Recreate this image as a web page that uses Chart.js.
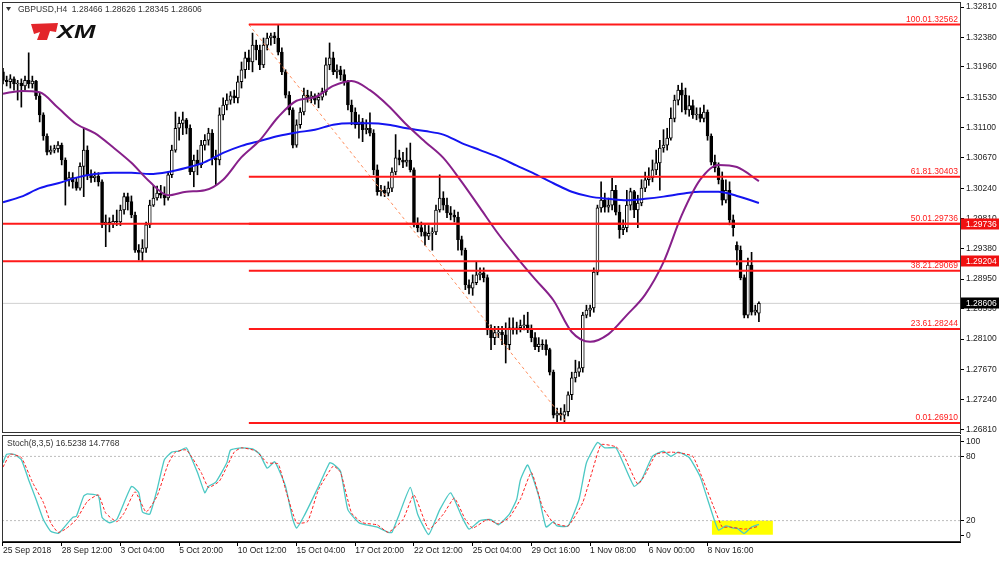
<!DOCTYPE html>
<html>
<head>
<meta charset="utf-8">
<script src="https://cdn.jsdelivr.net/npm/chart.js"></script>
<style>
  html, body { margin: 0; padding: 0; background: #fff; }
  #wrap { position: relative; width: 1000px; height: 561px; overflow: hidden; }
  #price { position: absolute; left: 0; top: 0; }
  #stoch { position: absolute; left: 0; top: 434px; }
</style>
</head>
<body>
<div id="wrap">
  <canvas id="price" width="1000" height="440"></canvas>
  <canvas id="stoch" width="1000" height="127"></canvas>
</div>
<script>
const FONT = '"Liberation Sans", Arial, sans-serif';

// GBPUSD H4 candles, bar 0 = 25 Sep 2018 20:00
const candleOpen = [
  1.3189,1.3177,1.3175,1.3179,1.3172,1.3173,1.3169,1.3177,1.3172,1.3176,
  1.3155,1.3128,1.3098,1.3075,1.3078,1.3080,1.3085,1.3064,1.3036,1.3039,
  1.3033,1.3024,1.3055,1.3078,1.3043,1.3039,1.3041,1.3033,1.2972,1.2976,
  1.2973,1.2977,1.2976,1.2993,1.3012,1.3005,1.2986,1.2936,1.2933,1.2939,
  1.2972,1.3000,1.3010,1.3017,1.3014,1.3010,1.3043,1.3078,1.3109,1.3116,
  1.3121,1.3109,1.3047,1.3064,1.3057,1.3085,1.3092,1.3102,1.3067,1.3064,
  1.3128,1.3142,1.3149,1.3155,1.3152,1.3175,1.3192,1.3209,1.3203,1.3227,
  1.3220,1.3199,1.3227,1.3237,1.3240,1.3237,1.3217,1.3189,1.3156,1.3135,
  1.3085,1.3114,1.3132,1.3156,1.3152,1.3155,1.3149,1.3153,1.3161,1.3199,
  1.3209,1.3189,1.3192,1.3185,1.3175,1.3142,1.3132,1.3114,1.3118,1.3107,
  1.3109,1.3102,1.3050,1.3019,1.3021,1.3017,1.3024,1.3047,1.3067,1.3064,
  1.3061,1.3064,1.3050,1.2972,1.2968,1.2962,1.2956,1.2960,1.2962,1.2993,
  1.3010,1.3000,1.2989,1.2986,1.2983,1.2951,1.2936,1.2887,1.2882,1.2890,
  1.2901,1.2904,1.2897,1.2823,1.2812,1.2819,1.2820,1.2816,1.2802,1.2826,
  1.2823,1.2826,1.2829,1.2830,1.2823,1.2812,1.2799,1.2803,1.2802,1.2795,
  1.2763,1.2702,1.2705,1.2702,1.2707,1.2731,1.2755,1.2763,1.2769,1.2844,
  1.2851,1.2854,1.2905,1.2996,1.3007,1.2997,1.3000,1.3021,1.2990,1.2965,
  1.2968,1.3000,1.3019,1.2993,1.3003,1.3024,1.3036,1.3039,1.3050,1.3060,
  1.3081,1.3085,1.3095,1.3123,1.3149,1.3163,1.3156,1.3135,1.3141,1.3128,
  1.3129,1.3123,1.3132,1.3098,1.3061,1.3053,1.3036,1.3007,1.3021,1.2979,
  1.2943,1.2936,1.2897,1.2844,1.2915,1.2848,1.28466
];
const candleHigh = [
  1.3194,1.3183,1.3185,1.3182,1.3177,1.3179,1.3183,1.3216,1.3183,1.3177,
  1.3159,1.3131,1.3101,1.3084,1.3085,1.3090,1.3088,1.3067,1.3047,1.3046,
  1.3039,1.3060,1.3109,1.3084,1.3050,1.3047,1.3046,1.3036,1.2986,1.2982,
  1.2986,1.2993,1.3000,1.3017,1.3017,1.3013,1.2990,1.2944,1.2951,1.2976,
  1.3007,1.3028,1.3027,1.3028,1.3026,1.3047,1.3085,1.3132,1.3125,1.3132,
  1.3123,1.3114,1.3071,1.3078,1.3092,1.3100,1.3109,1.3107,1.3078,1.3138,
  1.3152,1.3158,1.3161,1.3163,1.3183,1.3203,1.3217,1.3220,1.3244,1.3234,
  1.3227,1.3237,1.3244,1.3244,1.3245,1.3256,1.3223,1.3192,1.3161,1.3138,
  1.3121,1.3138,1.3166,1.3163,1.3161,1.3158,1.3159,1.3166,1.3209,1.3230,
  1.3217,1.3199,1.3197,1.3192,1.3177,1.3149,1.3138,1.3128,1.3123,1.3121,
  1.3131,1.3107,1.3057,1.3028,1.3027,1.3033,1.3053,1.3100,1.3078,1.3075,
  1.3081,1.3088,1.3053,1.2982,1.2976,1.2972,1.2971,1.2968,1.3000,1.3043,
  1.3019,1.3010,1.2998,1.2993,1.2990,1.2956,1.2939,1.2894,1.2901,1.2919,
  1.2911,1.2911,1.2901,1.2830,1.2828,1.2828,1.2828,1.2833,1.2840,1.2840,
  1.2834,1.2837,1.2844,1.2848,1.2830,1.2819,1.2812,1.2809,1.2809,1.2797,
  1.2766,1.2712,1.2712,1.2717,1.2735,1.2763,1.2780,1.2778,1.2848,1.2858,
  1.2858,1.2911,1.3000,1.3033,1.3017,1.3010,1.3038,1.3028,1.3000,1.2979,
  1.3021,1.3024,1.3021,1.3014,1.3036,1.3047,1.3053,1.3064,1.3078,1.3092,
  1.3107,1.3109,1.3138,1.3156,1.3170,1.3173,1.3166,1.3155,1.3149,1.3138,
  1.3138,1.3142,1.3135,1.3101,1.3071,1.3060,1.3047,1.3036,1.3033,1.2986,
  1.2948,1.2942,1.2901,1.2925,1.2933,1.2858,1.28626
];
const candleLow = [
  1.3172,1.3169,1.3166,1.3163,1.3149,1.3139,1.3163,1.3166,1.3166,1.3150,
  1.3118,1.3092,1.3071,1.3072,1.3074,1.3075,1.3057,1.3000,1.3027,1.3024,
  1.3021,1.3021,1.3012,1.3036,1.3032,1.3033,1.3027,1.2968,1.2941,1.2962,
  1.2968,1.2971,1.2971,1.2987,1.2993,1.2982,1.2933,1.2922,1.2921,1.2933,
  1.2968,1.2998,1.3007,1.3010,1.3000,1.3007,1.3039,1.3075,1.3092,1.3100,
  1.3101,1.3043,1.3026,1.3043,1.3053,1.3078,1.3085,1.3057,1.3028,1.3057,
  1.3121,1.3135,1.3143,1.3145,1.3145,1.3166,1.3180,1.3192,1.3189,1.3206,
  1.3192,1.3195,1.3220,1.3227,1.3229,1.3213,1.3185,1.3152,1.3128,1.3081,
  1.3082,1.3109,1.3128,1.3146,1.3145,1.3143,1.3138,1.3149,1.3156,1.3192,
  1.3185,1.3180,1.3177,1.3170,1.3135,1.3114,1.3109,1.3095,1.3090,1.3101,
  1.3098,1.3043,1.3014,1.3013,1.3012,1.3013,1.3019,1.3043,1.3057,1.3053,
  1.3055,1.3047,1.2969,1.2962,1.2956,1.2943,1.2951,1.2936,1.2958,1.2990,
  1.2993,1.2982,1.2979,1.2976,1.2936,1.2929,1.2880,1.2874,1.2872,1.2887,
  1.2894,1.2891,1.2816,1.2795,1.2802,1.2812,1.2802,1.2776,1.2795,1.2817,
  1.2817,1.2820,1.2823,1.2819,1.2806,1.2795,1.2792,1.2795,1.2787,1.2759,
  1.2698,1.2691,1.2695,1.2691,1.2701,1.2724,1.2749,1.2757,1.2763,1.2840,
  1.2842,1.2848,1.2901,1.2990,1.2990,1.2990,1.2993,1.2986,1.2953,1.2958,
  1.2962,1.2993,1.2982,1.2968,1.2999,1.3019,1.3028,1.3033,1.3043,1.3021,
  1.3075,1.3078,1.3092,1.3118,1.3142,1.3132,1.3129,1.3126,1.3123,1.3121,
  1.3118,1.3118,1.3092,1.3057,1.3047,1.3030,1.3000,1.3003,1.2972,1.2956,
  1.2915,1.2894,1.2840,1.2840,1.2844,1.2844,1.28345
];
const candleClose = [
  1.3177,1.3175,1.3179,1.3172,1.3173,1.3169,1.3177,1.3172,1.3176,1.3155,
  1.3128,1.3098,1.3075,1.3078,1.3080,1.3085,1.3064,1.3036,1.3039,1.3033,
  1.3024,1.3055,1.3078,1.3043,1.3039,1.3041,1.3033,1.2972,1.2976,1.2973,
  1.2977,1.2976,1.2993,1.3012,1.3005,1.2986,1.2936,1.2933,1.2939,1.2972,
  1.3000,1.3010,1.3017,1.3014,1.3010,1.3043,1.3078,1.3109,1.3116,1.3121,
  1.3109,1.3047,1.3064,1.3057,1.3085,1.3092,1.3102,1.3067,1.3064,1.3128,
  1.3142,1.3149,1.3155,1.3152,1.3175,1.3192,1.3209,1.3203,1.3227,1.3220,
  1.3199,1.3227,1.3237,1.3240,1.3237,1.3217,1.3189,1.3156,1.3135,1.3085,
  1.3114,1.3132,1.3156,1.3152,1.3155,1.3149,1.3153,1.3161,1.3199,1.3209,
  1.3189,1.3192,1.3185,1.3175,1.3142,1.3132,1.3114,1.3118,1.3107,1.3109,
  1.3102,1.3050,1.3019,1.3021,1.3017,1.3024,1.3047,1.3067,1.3064,1.3061,
  1.3064,1.3050,1.2972,1.2968,1.2962,1.2956,1.2960,1.2962,1.2993,1.3010,
  1.3000,1.2989,1.2986,1.2983,1.2951,1.2936,1.2887,1.2882,1.2890,1.2901,
  1.2904,1.2897,1.2823,1.2812,1.2819,1.2820,1.2816,1.2802,1.2826,1.2823,
  1.2826,1.2829,1.2830,1.2823,1.2812,1.2799,1.2803,1.2802,1.2795,1.2763,
  1.2702,1.2705,1.2702,1.2707,1.2731,1.2755,1.2763,1.2769,1.2844,1.2851,
  1.2854,1.2905,1.2996,1.3007,1.2997,1.3000,1.3021,1.2990,1.2965,1.2968,
  1.3000,1.3019,1.2993,1.3003,1.3024,1.3036,1.3039,1.3050,1.3060,1.3081,
  1.3085,1.3095,1.3123,1.3149,1.3163,1.3156,1.3135,1.3141,1.3128,1.3129,
  1.3123,1.3132,1.3098,1.3061,1.3053,1.3036,1.3007,1.3021,1.2979,1.2968,
  1.2936,1.2897,1.2844,1.2915,1.2848,1.2851,1.28606
];

// moving averages, read every 5 bars
const maIdx = [0,5,10,15,20,25,30,35,40,45,50,55,60,65,70,75,80,85,90,95,100,
  105,110,115,120,125,130,135,140,145,150,155,160,165,170,175,180,185,190,195,200,206];
const maPurple = [1.3158,1.3162,1.3160,1.3138,1.3115,1.3102,1.3082,1.3060,1.3033,1.3014,
  1.3019,1.3021,1.3036,1.3068,1.3092,1.3125,1.3148,1.3153,1.3169,1.3176,1.3163,
  1.3141,1.3114,1.3090,1.3067,1.3033,1.2996,1.2959,1.2926,1.2895,1.2865,1.2820,
  1.2806,1.2817,1.2844,1.2873,1.2919,1.2986,1.3036,1.3057,1.3054,1.3034];
const maBlue = [1.3004,1.3012,1.3024,1.3031,1.3039,1.3044,1.3046,1.3046,1.3044,1.3047,
  1.3053,1.3061,1.3074,1.3084,1.3091,1.3098,1.3103,1.3107,1.3114,1.3116,1.3116,
  1.3114,1.3109,1.3105,1.3100,1.3088,1.3078,1.3068,1.3056,1.3044,1.3031,1.3019,
  1.3012,1.3009,1.3007,1.3009,1.3012,1.3016,1.3019,1.3019,1.3013,1.3003];

// fibonacci retracement and price lines
const fibLevels = [0.0, 23.6, 38.2, 50.0, 61.8, 100.0];
const fibPrices = [1.26910, 1.28244, 1.29069, 1.29736, 1.30403, 1.32562];
const fibAnchorIdx = [67, 153.7];
const fibAnchorPrice = [1.32562, 1.26910];
const hLinePrices = [1.29736, 1.29204];
const bidPrice = 1.28606;
const axisMarkPrices = [1.29736, 1.29204, 1.28606];
const axisMarkColors = ['#f01010', '#f01010', '#000000'];

const priceTicks = [1.32810, 1.32380, 1.31960, 1.31530, 1.31100, 1.30670, 1.30240,
  1.29810, 1.29380, 1.28950, 1.28530, 1.28100, 1.27670, 1.27240, 1.26810];

// stochastic (8,3,5)
const stochKIdx = [0,1,3,5,7,9,11,13,15,16,19,20,22,23,26,27,29,31,35,37,
  38,40,42,44,46,48,50,53,55,56,58,61,62,65,68,70,72,74,75,77,
  79,80,82,86,89,90,92,94,97,99,102,105,106,108,111,113,116,119,122,125,
  127,130,133,135,138,140,141,143,146,148,150,151,154,157,159,162,164,167,169,172,
  174,177,180,182,184,187,190,192,194,195,197,199,200,202,204,206];
const stochK = [74,82,82,77,58,40,21,10,8,11,23,24,43,45,43,23,18,21,52,46,
  28,26,49,77,84,85,88,65,46,52,56,74,86,88,87,82,69,75,69,52,
  21,13,24,52,74,73,66,30,18,16,14,9,9,26,51,26,7,30,46,24,
  12,20,21,16,26,40,58,72,43,14,19,15,15,40,74,93,88,88,74,52,
  58,80,85,80,84,79,61,40,19,11,15,13,13,8,14,16.52];
const stochDIdx = [0,2,5,8,11,13,15,17,20,23,26,28,31,33,36,39,42,45,47,50,
  54,56,59,63,65,69,72,75,77,80,83,86,90,92,95,98,102,105,109,112,
  116,120,123,126,128,132,135,138,141,144,147,150,154,158,161,163,167,169,173,175,
  178,182,185,188,191,194,196,198,202,204,206];
const stochD = [70,82,79,56,37,18,9,12,21,38,44,27,19,27,47,28,43,73,84,86,
  65,51,57,84,88,85,74,73,49,18,19,49,71,65,27,18,16,9,21,44,
  12,26,41,21,13,21,17,23,40,65,33,18,15,37,71,91,89,82,54,63,
  82,84,83,80,56,30,14,14,12,13,14.78];
const stochLevels = [20, 80];
const stochTickPos = [6, 20, 80, 94];
const stochTickText = ['0', '20', '80', '100'];
const stochBox = [193.2, 209.8, 6.8, 20];

const timeTickIdx = [0, 16, 32, 48, 64, 80, 96, 112, 128, 144, 160, 176, 192];
const timeLabels = ['25 Sep 2018', '28 Sep 12:00', '3 Oct 04:00', '5 Oct 20:00', '10 Oct 12:00',
  '15 Oct 04:00', '17 Oct 20:00', '22 Oct 12:00', '25 Oct 04:00', '29 Oct 16:00',
  '1 Nov 08:00', '6 Nov 00:00', '8 Nov 16:00'];

const xMin = -0.27, xMax = 260.8;

Chart.defaults.font.family = FONT;
Chart.defaults.font.size = 8.5;
Chart.defaults.color = '#222';

function flatLine(price, from, to, color, width, order, dash) {
  return {
    type: 'line',
    data: [{x: from, y: price}, {x: to, y: price}],
    borderColor: color, borderWidth: width, borderDash: dash || [],
    pointRadius: 0, order: order
  };
}

// keep the plot area where the frame is, labels may overhang
function noPad(s) {
  s.paddingTop = 0; s.paddingBottom = 0; s.paddingLeft = 0; s.paddingRight = 0;
}

const isUp = i => candleClose[i] >= candleOpen[i];

const priceDecor = {
  id: 'priceDecor',
  afterDraw(chart) {
    const {ctx, chartArea: a, scales: {y}} = chart;
    ctx.save();
    ctx.strokeStyle = '#333';
    ctx.lineWidth = 1;
    ctx.strokeRect(a.left + 0.5, a.top + 0.5, a.right - a.left, a.bottom - a.top - 1);

    // fib level texts
    ctx.font = '8.5px ' + FONT;
    ctx.fillStyle = '#ff1a1a';
    ctx.textAlign = 'right';
    ctx.textBaseline = 'alphabetic';
    fibLevels.forEach((lv, k) => {
      ctx.fillText(lv.toFixed(1) + fibPrices[k].toFixed(5), a.right - 2, y.getPixelForValue(fibPrices[k]) - 2.5);
    });

    // price marks on the axis
    ctx.textAlign = 'left';
    ctx.textBaseline = 'middle';
    axisMarkPrices.forEach((p, k) => {
      const py = y.getPixelForValue(p);
      ctx.fillStyle = axisMarkColors[k];
      ctx.fillRect(a.right + 1, Math.round(py) - 5.5, 38, 11);
      ctx.fillStyle = '#fff';
      ctx.fillText(p.toFixed(5), a.right + 6, py + 0.5);
    });

    // header
    ctx.fillStyle = '#333';
    ctx.beginPath();
    ctx.moveTo(6, 7); ctx.lineTo(11, 7); ctx.lineTo(8.5, 11); ctx.closePath();
    ctx.fill();
    ctx.fillText('GBPUSD,H4  1.28466 1.28626 1.28345 1.28606', 18, 9.5);

    // logo
    ctx.fillStyle = '#e3262b';
    ctx.beginPath();
    ctx.moveTo(31, 24); ctx.lineTo(58, 23); ctx.lineTo(56, 32); ctx.lineTo(50, 31);
    ctx.lineTo(47, 40); ctx.lineTo(37, 40); ctx.lineTo(40, 32); ctx.lineTo(34, 34);
    ctx.closePath();
    ctx.fill();
    ctx.save();
    ctx.translate(57, 38);
    ctx.scale(1.35, 1);
    ctx.fillStyle = '#111';
    ctx.font = 'italic bold 19px ' + FONT;
    ctx.textBaseline = 'alphabetic';
    ctx.fillText('XM', 0, 0);
    ctx.restore();
    ctx.restore();
  }
};

new Chart(document.getElementById('price'), {
  type: 'bar',
  data: {
    datasets: [
      ...fibPrices.map(p => flatLine(p, fibAnchorIdx[0], xMax, '#ff1a1a', 2, 0)),
      ...hLinePrices.map(p => flatLine(p, xMin, xMax, '#ff1a1a', 2, 0)),
      flatLine(bidPrice, xMin, xMax, '#d0d0d0', 1, 6),
      {
        type: 'line',
        data: fibAnchorIdx.map((x, k) => ({x, y: fibAnchorPrice[k]})),
        borderColor: '#ff8c5a', borderWidth: 1, borderDash: [3, 3],
        pointRadius: 0, order: 1
      },
      {
        type: 'line',
        data: maIdx.map((x, k) => ({x, y: maPurple[k]})),
        borderColor: '#87208a', borderWidth: 2, pointRadius: 0,
        cubicInterpolationMode: 'monotone', order: 1
      },
      {
        type: 'line',
        data: maIdx.map((x, k) => ({x, y: maBlue[k]})),
        borderColor: '#1414f0', borderWidth: 2, pointRadius: 0,
        cubicInterpolationMode: 'monotone', order: 1
      },
      {
        data: candleOpen.map((o, i) => ({x: i, y: [o, candleClose[i]]})),
        backgroundColor: ctx => isUp(ctx.dataIndex) ? '#fff' : '#000',
        borderColor: '#000', borderWidth: 1, borderSkipped: false,
        barThickness: 3, grouped: false, order: 2
      },
      {
        data: candleHigh.map((h, i) => ({x: i, y: [candleLow[i], h]})),
        backgroundColor: '#000', barThickness: 1, grouped: false, order: 3
      }
    ]
  },
  options: {
    responsive: false,
    animation: false,
    layout: {padding: {left: 2, top: 2, right: 0, bottom: 7}},
    plugins: {legend: {display: false}, tooltip: {enabled: false}},
    scales: {
      x: {type: 'linear', min: xMin, max: xMax, display: false, offset: false},
      y: {
        type: 'linear', position: 'right', min: 1.26767, max: 1.32881,
        afterBuildTicks: s => { s.ticks = priceTicks.map(v => ({value: v})); },
        afterFit: s => { s.width = 40; noPad(s); },
        ticks: {autoSkip: false, padding: 2, callback: v => v.toFixed(5)},
        grid: {drawOnChartArea: false, tickLength: 4, tickColor: '#000'},
        border: {color: '#000'}
      }
    }
  },
  plugins: [priceDecor]
});

const stochDecor = {
  id: 'stochDecor',
  beforeDatasetsDraw(chart) {
    const {ctx, scales: {x, y}} = chart;
    const x0 = x.getPixelForValue(stochBox[0]), x1 = x.getPixelForValue(stochBox[1]);
    const y0 = y.getPixelForValue(stochBox[3]), y1 = y.getPixelForValue(stochBox[2]);
    ctx.save();
    ctx.fillStyle = '#ffff00';
    ctx.fillRect(x0, y0, x1 - x0, y1 - y0);
    ctx.restore();
  },
  afterDraw(chart) {
    const {ctx, chartArea: a} = chart;
    ctx.save();
    ctx.strokeStyle = '#333';
    ctx.lineWidth = 1;
    ctx.strokeRect(a.left + 0.5, a.top + 0.5, a.right - a.left, a.bottom - a.top - 1);
    ctx.font = '8.5px ' + FONT;
    ctx.fillStyle = '#333';
    ctx.textBaseline = 'middle';
    ctx.fillText('Stoch(8,3,5) 16.5238 14.7768', 7, 9.5);
    ctx.restore();
  }
};

new Chart(document.getElementById('stoch'), {
  type: 'line',
  data: {
    datasets: [
      {
        data: stochKIdx.map((x, k) => ({x, y: stochK[k]})),
        borderColor: '#4cc8c4', borderWidth: 1.3, pointRadius: 0, tension: 0.15, order: 1
      },
      {
        data: stochDIdx.map((x, k) => ({x, y: stochD[k]})),
        borderColor: '#ff2020', borderWidth: 1, borderDash: [3, 2], pointRadius: 0, tension: 0.15, order: 0
      },
      ...stochLevels.map(v => flatLine(v, xMin, xMax, '#bdbdbd', 1, 3, [2, 2]))
    ]
  },
  options: {
    responsive: false,
    animation: false,
    layout: {padding: {left: 2, top: 1, right: 0, bottom: 0}},
    plugins: {legend: {display: false}, tooltip: {enabled: false}},
    scales: {
      x: {
        type: 'linear', min: xMin, max: xMax,
        afterBuildTicks: s => { s.ticks = timeTickIdx.map(v => ({value: v})); },
        afterFit: s => { s.height = 19; noPad(s); },
        ticks: {autoSkip: false, maxRotation: 0, align: 'start', padding: 0,
                callback: (v, i) => timeLabels[i]},
        grid: {drawOnChartArea: false, tickLength: 4, tickColor: '#000'},
        border: {color: '#000'}
      },
      y: {
        type: 'linear', position: 'right', min: 0, max: 100,
        afterBuildTicks: s => { s.ticks = stochTickPos.map(v => ({value: v})); },
        afterFit: s => { s.width = 40; noPad(s); },
        ticks: {autoSkip: false, padding: 2, callback: (v, i) => stochTickText[i]},
        grid: {drawOnChartArea: false, tickLength: 4, tickColor: '#000'},
        border: {color: '#000'}
      }
    }
  },
  plugins: [stochDecor]
});
</script>
</body>
</html>
